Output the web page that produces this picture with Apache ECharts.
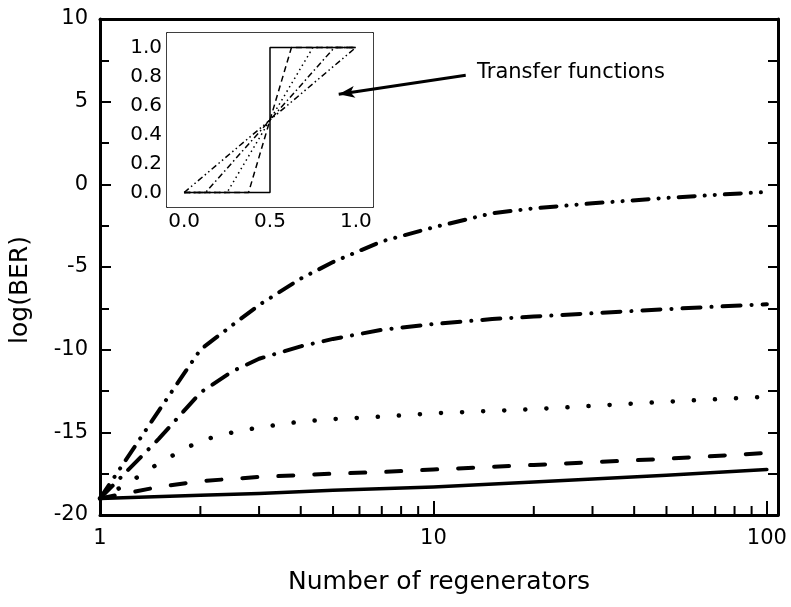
<!DOCTYPE html>
<html>
<head>
<meta charset="utf-8">
<script src="https://cdn.jsdelivr.net/npm/echarts@6/dist/echarts.min.js"></script>
<style>html,body{margin:0;padding:0;background:#fff}#c{width:791px;height:607px}</style>
</head>
<body>
<div id="c"></div>
<script>
// ---- main chart data (x = number of regenerators, y = log(BER)) ----
const solidN   = [1, 2, 3, 5, 10, 20, 50, 100];
const solidV   = [-19.0, -18.8, -18.7, -18.5, -18.3, -18.0, -17.6, -17.25];
const dashN    = [1, 1.5, 2, 3, 5, 7, 10, 20, 50, 100];
const dashV    = [-19.0, -18.3, -17.95, -17.7, -17.5, -17.4, -17.25, -16.97, -16.6, -16.25];
const dotN     = [1, 1.2, 1.4, 1.6, 1.8, 2, 2.5, 3, 4, 5, 7, 10, 20, 30, 50, 70, 100];
const dotV     = [-19.0, -18.15, -17.25, -16.55, -16.0, -15.5, -15.0, -14.7, -14.35, -14.2, -14.05, -13.85, -13.6, -13.4, -13.15, -13.0, -12.85];
const dashDotN = [1, 1.5, 2, 2.5, 3, 4, 5, 7, 10, 15, 20, 30, 50, 70, 100];
const dashDotV = [-19.0, -15.4, -12.6, -11.3, -10.55, -9.8, -9.35, -8.8, -8.45, -8.15, -8.0, -7.8, -7.55, -7.4, -7.25];
const dash2DotN = [1, 1.5, 2, 2.5, 3, 4, 5, 7, 10, 15, 20, 30, 50, 70, 100];
const dash2DotV = [-19.0, -13.7, -10.0, -8.5, -7.3, -5.7, -4.7, -3.45, -2.6, -1.75, -1.45, -1.15, -0.82, -0.64, -0.46];
const logMinorTicks = [2, 3, 4, 5, 6, 7, 8, 9, 20, 30, 40, 50, 60, 70, 80, 90];

// ---- inset data: transfer functions ----
const tfSolid   = [[0, 0], [0.5, 0], [0.5, 1], [1, 1]];
const tfDash    = [[0, 0], [0.375, 0], [0.625, 1], [1, 1]];
const tfDot     = [[0, 0], [0.25, 0], [0.75, 1], [1, 1]];
const tfDashDot = [[0, 0], [0.125, 0], [0.875, 1], [1, 1]];
const tfDash2Dot = [[0, 0], [1, 1]];
const insetXTicks = [0, 0.5, 1.0];
const insetXMinor = [0, 0.25, 0.5, 0.75, 1.0];
const insetYTicks = [0, 0.2, 0.4, 0.6, 0.8, 1.0];

// annotation arrow (in main data coords)
const arrowFrom = [12.5, 6.6];
const arrowTo = [5.2, 5.45];

const FONT = 'DejaVu Sans';
const zip = (a, b) => a.map((v, i) => [v, b[i]]);

const chart = echarts.init(document.getElementById('c'), null, {renderer: 'canvas'});

const mainLine = (data, type, width) => ({
  type: 'line', xAxisIndex: 0, yAxisIndex: 0, data, symbol: 'none', silent: true,
  lineStyle: {color: '#000', width: width, type: type, cap: 'round', join: 'round'},
  z: 3
});
const insetLine = (data, type) => ({
  type: 'line', xAxisIndex: 2, yAxisIndex: 2, data, symbol: 'none', silent: true,
  lineStyle: {color: '#000', width: 1.5, type: type, cap: 'butt'},
  z: 6
});

const option = {
  animation: false,
  backgroundColor: '#fff',
  textStyle: {fontFamily: FONT},
  grid: [
    {left: 100, right: 13, top: 19, bottom: 92},
    {left: 167, right: 418, top: 33, bottom: 400, show: true, backgroundColor: '#fff', borderWidth: 0, z: 4}
  ],
  xAxis: [
    { type: 'log', gridIndex: 0, min: 1, max: 108, logBase: 10, position: 'bottom',
      name: 'Number of regenerators', nameLocation: 'middle', nameGap: 55,
      nameTextStyle: {fontFamily: FONT, fontSize: 25, color: '#000'},
      axisLine: {show: true, onZero: false, lineStyle: {color: '#000', width: 3}},
      axisTick: {show: true, inside: true, length: 14, lineStyle: {width: 2, color: '#000'}},
      axisLabel: {show: true, margin: 13, fontFamily: FONT, fontSize: 21, color: '#000', showMaxLabel: false,
        formatter: v => (v === 1 || v === 10 || v === 100) ? String(v) : ''},
      splitLine: {show: false}
    },
    { type: 'log', gridIndex: 0, min: 1, max: 108, position: 'top',
      axisLine: {show: true, onZero: false, lineStyle: {color: '#000', width: 3}},
      axisTick: {show: false}, axisLabel: {show: false}, splitLine: {show: false}
    },
    { type: 'value', gridIndex: 1, min: -0.1, max: 1.1, position: 'bottom',
      axisLine: {show: true, onZero: false, lineStyle: {color: '#000', width: 1.5}},
      axisTick: {show: true, inside: true, length: 4, customValues: insetXMinor, lineStyle: {color: '#000', width: 1}},
      axisLabel: {show: true, margin: 5, fontFamily: FONT, fontSize: 20, color: '#000', customValues: insetXTicks,
        formatter: v => v.toFixed(1)},
      splitLine: {show: false}
    },
    { type: 'value', gridIndex: 1, min: -0.1, max: 1.1, position: 'top',
      axisLine: {show: true, onZero: false, lineStyle: {color: '#000', width: 1.5}},
      axisTick: {show: true, inside: true, length: 4, customValues: insetXMinor, lineStyle: {color: '#000', width: 1}},
      axisLabel: {show: false}, splitLine: {show: false}
    }
  ],
  yAxis: [
    { type: 'value', gridIndex: 0, min: -20, max: 10, interval: 5, position: 'left',
      axisLine: {show: true, onZero: false, lineStyle: {color: '#000', width: 3}},
      axisTick: {show: true, inside: true, length: 11, lineStyle: {width: 2, color: '#000'}},
      minorTick: {show: true, splitNumber: 2, length: 9, lineStyle: {width: 2, color: '#000'}},
      axisLabel: {show: true, margin: 12, fontFamily: FONT, fontSize: 21, color: '#000'},
      splitLine: {show: false}
    },
    { type: 'value', gridIndex: 0, min: -20, max: 10, interval: 5, position: 'right',
      axisLine: {show: true, onZero: false, lineStyle: {color: '#000', width: 3}},
      axisTick: {show: true, inside: true, length: 10, lineStyle: {width: 2, color: '#000'}},
      minorTick: {show: true, splitNumber: 2, length: 10, lineStyle: {width: 2, color: '#000'}},
      axisLabel: {show: false}, splitLine: {show: false}
    },
    { type: 'value', gridIndex: 1, min: -0.1, max: 1.1, position: 'left',
      axisLine: {show: true, onZero: false, lineStyle: {color: '#000', width: 1.5}},
      axisTick: {show: true, inside: true, length: 4, customValues: insetYTicks, lineStyle: {color: '#000', width: 1}},
      axisLabel: {show: true, margin: 5, fontFamily: FONT, fontSize: 20, color: '#000', customValues: insetYTicks,
        formatter: v => v.toFixed(1)},
      splitLine: {show: false}
    },
    { type: 'value', gridIndex: 1, min: -0.1, max: 1.1, position: 'right',
      axisLine: {show: true, onZero: false, lineStyle: {color: '#000', width: 1.5}},
      axisTick: {show: true, inside: true, length: 4, customValues: insetYTicks, lineStyle: {color: '#000', width: 1}},
      axisLabel: {show: false}, splitLine: {show: false}
    }
  ],
  graphic: [
    { type: 'text', x: 20, y: 290, rotation: Math.PI / 2,
      style: {text: 'log(BER)', font: '25px "DejaVu Sans"', fill: '#000', align: 'center', verticalAlign: 'middle'} },
    { type: 'text', x: 477, y: 73,
      style: {text: 'Transfer functions', font: '21px "DejaVu Sans"', fill: '#000', align: 'left', verticalAlign: 'middle'}, z: 10 }
  ],
  series: [
    mainLine(zip(solidN, solidV), 'solid', 3.5),
    mainLine(zip(dashN, dashV), [15, 21], 4),
    mainLine(zip(dotN, dotV), [0.1, 21], 4.5),
    mainLine(zip(dashDotN, dashDotV), [18, 11, 0.1, 11], 4),
    mainLine(zip(dash2DotN, dash2DotV), [16, 10, 0.1, 10, 0.1, 10], 4),
    {
      type: 'custom', xAxisIndex: 0, yAxisIndex: 0, silent: true, z: 5,
      data: logMinorTicks.map(v => [v, -20]),
      renderItem: (params, api) => {
        const p = api.coord([api.value(0), api.value(1)]);
        return {type: 'line', shape: {x1: p[0], y1: p[1], x2: p[0], y2: p[1] - 9},
          style: {stroke: '#000', lineWidth: 2}};
      }
    },
    {
      type: 'line', xAxisIndex: 0, yAxisIndex: 0, data: [], silent: true,
      markLine: {
        silent: true, symbol: ['none', 'arrow'], symbolSize: [9, 16],
        label: {show: false},
        lineStyle: {color: '#000', width: 3, type: 'solid'},
        data: [[{coord: arrowFrom}, {coord: arrowTo}]]
      }, z: 8
    },
    insetLine(tfSolid, 'solid'),
    insetLine(tfDash, [6, 4]),
    insetLine(tfDot, [1.5, 3.5]),
    insetLine(tfDashDot, [6, 3, 1.5, 3]),
    insetLine(tfDash2Dot, [6, 3, 1.5, 3, 1.5, 3])
  ]
};
chart.setOption(option);
</script>
</body>
</html>
